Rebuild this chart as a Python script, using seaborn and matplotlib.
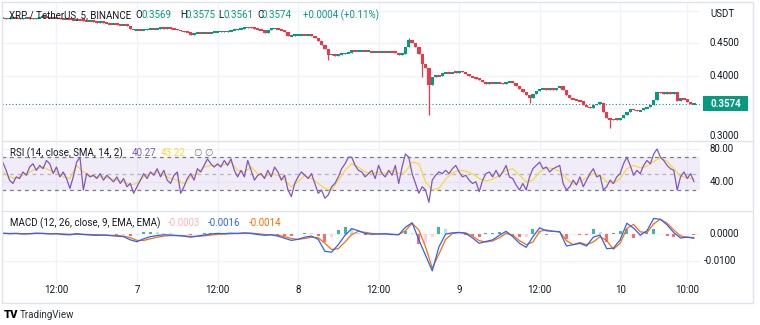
import numpy as np
import matplotlib
matplotlib.use("Agg")
import matplotlib.pyplot as plt
from matplotlib.patches import Rectangle
from matplotlib.lines import Line2D
from matplotlib.transforms import IdentityTransform, blended_transform_factory, Bbox
import seaborn as sns

# ---- XRP / TetherUS (BINANCE), half-hour closes from Nov 6 04:00 to Nov 10 11:00 ----
close = [
    0.489, 0.488, 0.489, 0.490, 0.489, 0.488, 0.489, 0.490, 0.489, 0.488,
    0.489, 0.490, 0.491, 0.490, 0.489, 0.490, 0.489, 0.488, 0.487, 0.488,
    0.487, 0.486, 0.487, 0.486, 0.485, 0.484, 0.485, 0.483, 0.482, 0.483,
    0.482, 0.481, 0.480, 0.481, 0.479, 0.478, 0.479, 0.477, 0.473, 0.470,
    0.471, 0.470, 0.471, 0.472, 0.473, 0.472, 0.473, 0.474, 0.473, 0.474,
    0.473, 0.472, 0.471, 0.469, 0.468, 0.467, 0.463, 0.466, 0.467, 0.466,
    0.467, 0.466, 0.467, 0.468, 0.468, 0.469, 0.468, 0.469, 0.470, 0.471,
    0.472, 0.473, 0.474, 0.475, 0.474, 0.473, 0.471, 0.470, 0.466, 0.471,
    0.473, 0.473, 0.472, 0.470, 0.468, 0.461, 0.462, 0.463,
    0.463, 0.464, 0.463, 0.463, 0.462, 0.458, 0.454, 0.448, 0.441, 0.432,
    0.434, 0.431, 0.433, 0.434, 0.435, 0.436, 0.440, 0.438, 0.438, 0.439,
    0.438, 0.438, 0.437, 0.438, 0.437, 0.438, 0.437, 0.438, 0.437, 0.436,
    0.433, 0.434, 0.444, 0.455, 0.451, 0.445, 0.434, 0.418, 0.412, 0.386,
    0.398, 0.401, 0.400, 0.404, 0.405, 0.404, 0.406, 0.405,
    0.408, 0.406, 0.403, 0.400, 0.398, 0.396, 0.394, 0.391, 0.388, 0.390,
    0.389, 0.390, 0.389, 0.388, 0.390, 0.392, 0.389, 0.384, 0.380, 0.376,
    0.370, 0.366, 0.372, 0.377, 0.380, 0.381, 0.379, 0.380, 0.379, 0.381,
    0.384, 0.378, 0.370, 0.366, 0.364, 0.363, 0.361, 0.356, 0.353, 0.350,
    0.355, 0.357, 0.359, 0.345, 0.336, 0.332, 0.334, 0.333,
    0.335, 0.340, 0.344, 0.349, 0.348, 0.346, 0.347, 0.350, 0.352, 0.356,
    0.363, 0.375, 0.374, 0.373, 0.374, 0.373, 0.375, 0.362, 0.366, 0.364,
    0.360, 0.3569, 0.3574,
]
# long wicks (candle index -> extreme price)
wick_low = {97: 0.4246, 125: 0.3985, 127: 0.3400, 157: 0.3585, 181: 0.3200}
wick_high = {121: 0.4585}

# RSI(14) on the same half-hour grid
rsi = [
    64, 54, 42, 38, 46, 44, 52, 48, 58, 62,
    54, 60, 56, 66, 62, 50, 58, 46, 52, 44,
    32, 46, 64, 70, 30, 50, 46, 48, 44, 50,
    42, 48, 44, 40, 46, 38, 44, 34, 38, 26,
    34, 42, 50, 44, 52, 48, 56, 46, 54, 42,
    38, 48, 52, 26, 34, 44, 50, 42, 56, 52,
    60, 68, 62, 58, 62, 58, 66, 60, 68, 54,
    46, 54, 46, 66, 54, 42, 48, 50, 44, 54,
    46, 58, 52, 42, 48, 30, 22, 38, 46, 52,
    48, 44, 50, 38, 26, 30, 20, 24, 34, 38,
    46, 56, 62, 70, 70, 60, 54, 52, 46, 50,
    54, 44, 60, 50, 46, 54, 48, 60,
    38, 58, 74, 70, 50, 38, 26, 34, 30, 15,
    42, 48, 52, 50, 54, 50, 56, 60, 52, 46,
    48, 42, 38, 40, 28, 42, 50, 52, 46, 54,
    46, 52, 60, 46, 44, 36, 30, 38, 30, 46,
    56, 60, 64, 56, 58, 52, 56, 58, 60, 38,
    30, 34, 42, 36, 46, 34, 42, 50, 56, 46,
    48, 30, 34, 42, 38, 46, 50, 62, 70, 60,
    48, 54, 50, 60, 66, 62, 74, 80, 70, 66,
    60, 56, 54, 30, 46, 52, 44, 50, 40.27,
]

# hourly grid: RSI-based moving average, MACD line and signal line
rsi_ma = [
    52, 46, 44, 48, 52, 56, 58, 54, 52, 46,
    44, 60, 52, 48, 46, 46, 44, 42, 40, 36,
    38, 46, 50, 52, 48, 44, 42, 38, 46, 50,
    58, 60, 60, 61, 64, 54, 52, 58, 50, 46,
    50, 48, 42, 34, 40, 48, 44, 38, 32, 30,
    42, 54, 62, 58, 52, 50, 52, 50, 54, 50,
    52, 64, 62, 40, 30, 32, 43, 51, 54, 53,
    50, 44, 41, 43, 48, 54, 56, 48, 40, 42,
    52, 57, 56, 53, 44, 37, 40, 45, 50, 48,
    40, 38, 44, 56, 60, 57, 59, 65, 69, 65,
    56, 47, 45, 43.22,
]
macd = [
    0.0003, 0.0001, 0.0002, 0.0000, 0.0001, 0.0003, 0.0002, 0.0000, 0.0001, -0.0002,
    -0.0003, 0.0001, -0.0002, -0.0004, -0.0005, -0.0004, -0.0006, -0.0008, -0.0010, -0.0022,
    -0.0029, -0.0018, -0.0010, -0.0006, -0.0003, -0.0004, -0.0006, -0.0008, -0.0012, -0.0008,
    -0.0004, 0.0000, 0.0002, 0.0001, 0.0003, 0.0002, 0.0004, 0.0002, -0.0002, -0.0005,
    -0.0003, -0.0008, -0.0016, -0.0024, -0.0020, -0.0012, -0.0008, -0.0020, -0.0065, -0.0068,
    -0.0040, -0.0005, 0.0020, 0.0012, 0.0002, -0.0001, 0.0000, 0.0001, -0.0002, -0.0003,
    0.0025, 0.0042, -0.0022, -0.0080, -0.0138, -0.0048, 0.0000, 0.0004, 0.0006, 0.0002,
    -0.0015, -0.0035, -0.0028, -0.0022, -0.0005, 0.0010, -0.0010, -0.0035, -0.0050, -0.0010,
    0.0023, 0.0012, 0.0010, 0.0008, -0.0045, -0.0040, -0.0035, -0.0045, -0.0012, -0.0004,
    -0.0055, -0.0053, -0.0022, 0.0040, 0.0022, -0.0004, 0.0012, 0.0058, 0.0055, 0.0034,
    0.0005, -0.0015, -0.0012, -0.00163,
]
signal = [
    0.0002, 0.0002, 0.0002, 0.0001, 0.0001, 0.0002, 0.0002, 0.0001, 0.0001, 0.0000,
    -0.0001, -0.0001, -0.0001, -0.0002, -0.0003, -0.0004, -0.0005, -0.0006, -0.0008, -0.0014,
    -0.0024, -0.0024, -0.0018, -0.0012, -0.0008, -0.0006, -0.0006, -0.0007, -0.0009, -0.0009,
    -0.0007, -0.0004, -0.0001, 0.0000, 0.0001, 0.0002, 0.0003, 0.0003, 0.0001, -0.0002,
    -0.0003, -0.0005, -0.0010, -0.0017, -0.0020, -0.0017, -0.0012, -0.0014, -0.0035, -0.0058,
    -0.0055, -0.0030, -0.0002, 0.0010, 0.0006, 0.0002, 0.0000, 0.0000, -0.0001, -0.0002,
    0.0012, 0.0040, 0.0015, -0.0048, -0.0128, -0.0075, -0.0020, 0.0002, 0.0005, 0.0004,
    -0.0008, -0.0025, -0.0030, -0.0026, -0.0014, 0.0002, -0.0004, -0.0025, -0.0040, -0.0030,
    0.0010, 0.0015, 0.0010, 0.0008, -0.0025, -0.0040, -0.0032, -0.0040, -0.0030, -0.0010,
    -0.0025, -0.0057, -0.0035, 0.0021, 0.0036, 0.0008, 0.0005, 0.0038, 0.0055, 0.0040,
    0.0015, -0.0008, -0.0012, -0.00137,
]

time_ticks = [12, 24, 36, 48, 60, 72, 84, 96, 106]
time_labels = ["12:00", "7", "12:00", "8", "12:00", "9", "12:00", "10", "10:00"]
price_grid = [0.30, 0.35, 0.40, 0.45, 0.50]
price_ticks = [0.45, 0.40, 0.30]
price_labels = ["0.4500", "0.4000", "0.3000"]
rsi_ticks = [80, 40]
rsi_labels = ["80.00", "40.00"]
macd_ticks = [0.0, -0.01]
macd_labels = ["0.0000", "-0.0100"]

# ---- style ----
UP, DOWN = "#089981", "#f23645"
TEXT, GRID, BORDER = "#131722", "#f0f3fa", "#e0e3eb"
PURPLE, YELLOW = "#7e57c2", "#fdd835"
BLUE, ORANGE = "#2962ff", "#ff6d00"

sns.set_theme(style="white")
plt.rcParams["font.family"] = ["Roboto", "DejaVu Sans"]

W, H = 760, 325
X0, X1 = 3.88, 107.9
fig = plt.figure(figsize=(W / 100, H / 100), dpi=100)
fig.patch.set_facecolor("white")


def pane(top, bottom, yticks):
    ax = fig.add_axes([2 / W, 1 - bottom / H, 698 / W, (bottom - top) / H])
    ax.set_facecolor("none")
    for s in ax.spines.values():
        s.set_visible(False)
    ax.set_xlim(X0, X1)
    ax.set_xticks(time_ticks)
    ax.set_yticks(yticks)
    ax.tick_params(length=0, labelbottom=False, labelleft=False)
    ax.grid(True, color=GRID, lw=1, zorder=0)
    return ax


def label(x, y, s, color=TEXT, size=7, ha="left", **kw):
    return fig.text(x / W, 1 - y / H, s, color=color, fontsize=size,
                    ha=ha, va="center", **kw)


ax_p = pane(2, 140, price_grid)
ax_r = pane(141, 210, [80, 40])
ax_m = pane(211, 289, [0.0, -0.01])
ax_p.set_ylim(0.3015, 0.5138)
ax_r.set_ylim(5.6, 89.8)
ax_m.set_ylim(-0.0206, 0.0086)

# ---- candles ----
c = np.array(close)
o = np.r_[c[0], c[:-1]]
t_c = 4 + 0.5 * np.arange(len(c))
col = np.where(c >= o, UP, DOWN)
body_lo = np.minimum(o, c)
body_hi = np.maximum(o, c)
lo = body_lo.copy()
hi = body_hi.copy()
for k, v in wick_low.items():
    lo[k] = v
for k, v in wick_high.items():
    hi[k] = v
ax_p.vlines(t_c, lo, hi, colors=col, lw=0.9, zorder=3)
# bodies get a minimum visible thickness so flat stretches still read as candles
min_body = 0.0028
body_h = np.maximum(body_hi - body_lo, min_body)
body_mid = (body_hi + body_lo) / 2
ax_p.bar(t_c, body_h, bottom=body_mid - body_h / 2,
         width=0.5, color=col, lw=0, zorder=3)
ax_p.axhline(c[-1], color=UP, ls=(0, (1, 2)), lw=0.8, zorder=2)

# ---- RSI ----
t_r = 4 + 0.5 * np.arange(len(rsi))
t_h = 4 + 1.0 * np.arange(len(rsi_ma))
ax_r.axhspan(30, 70, color=PURPLE, alpha=0.1, lw=0, zorder=1)
for lvl, a in ((70, 1.0), (50, 0.5), (30, 1.0)):
    ax_r.axhline(lvl, color="#787b86", ls=(0, (3, 3)), lw=0.9, alpha=a, zorder=2)
sns.lineplot(x=t_r, y=rsi, ax=ax_r, color=PURPLE, lw=0.9, estimator=None, zorder=4)
sns.lineplot(x=t_h, y=rsi_ma, ax=ax_r, color=YELLOW, lw=0.9, estimator=None, zorder=3)

# ---- MACD ----
m = np.array(macd)
s = np.array(signal)
hist = m - s
prev = np.r_[0.0, hist[:-1]]
hcol = np.where(hist >= 0,
                np.where(hist >= prev, "#26a69a", "#b2dfdb"),
                np.where(hist < prev, "#ff5252", "#ffcdd2"))
ax_m.bar(t_h, hist, width=0.45, color=hcol, lw=0, alpha=0.85, zorder=2)
sns.lineplot(x=t_h, y=macd, ax=ax_m, color=BLUE, lw=0.9, estimator=None, zorder=4)
sns.lineplot(x=t_h, y=signal, ax=ax_m, color=ORANGE, lw=0.9, estimator=None, zorder=3)
for ax in (ax_p, ax_r, ax_m):
    ax.set_xlim(X0, X1)
    ax.set_xlabel("")
    ax.set_ylabel("")

# ---- axis labels on the right ----
pane_box = ax_p.get_window_extent()
for ax, ticks, labels in ((ax_p, price_ticks, price_labels),
                          (ax_r, rsi_ticks, rsi_labels),
                          (ax_m, macd_ticks, macd_labels)):
    tr = blended_transform_factory(IdentityTransform(), ax.transData)
    for v, txt in zip(ticks, labels):
        xpos = 704 if txt.startswith("-") else 710
        # the lowest price label sits on the pane edge and is cut by it
        va = "bottom" if (ax is ax_p and v == 0.30) else "center"
        t = ax.text(xpos, v, txt, transform=tr, fontsize=7, color=TEXT,
                    ha="left", va=va, clip_on=False)
        if ax is ax_p:
            t.set_clip_box(Bbox.from_extents(690, pane_box.y0 + 1, 760, H))
            t.set_clip_on(True)
label(710, 14, "USDT")

# last price tag
y_last = ax_p.transData.transform((X0, c[-1]))[1]
fig.add_artist(Rectangle((703, y_last - 7.5), 45, 15, transform=IdentityTransform(),
                         facecolor=UP, edgecolor="none"))
fig.text(725.5, y_last, f"{close[-1]:.4f}", transform=IdentityTransform(),
         color="white", fontsize=7, fontweight="bold", ha="center", va="center")

# time axis
trx = blended_transform_factory(ax_m.transData, IdentityTransform())
for tv, txt in zip(time_ticks, time_labels):
    ax_m.text(tv, H - 290, txt, transform=trx, fontsize=7, color=TEXT,
              ha="center", va="center", clip_on=False)

# ---- legends ----
label(9, 15, "XRP / TetherUS, 5, BINANCE")
for x, txt, colr in ((135, "O", TEXT), (141, "0.3569", UP), (180, "H", TEXT),
                     (186, "0.3575", UP), (218, "L", TEXT), (223, "0.3561", UP),
                     (257, "C", TEXT), (262, "0.3574", UP), (303, "+0.0004 (+0.11%)", UP)):
    label(x, 15, txt, color=colr)

label(10, 153, "RSI (14, close, SMA, 14, 2)")
label(132, 153, "40.27", color=PURPLE)
label(161, 153, "43.22", color=YELLOW)
label(193, 153, "\u2205", color="#787b86", family=["DejaVu Sans"])
label(204, 153, "\u2205", color="#787b86", family=["DejaVu Sans"])

label(10, 223, "MACD (12, 26, close, 9, EMA, EMA)")
label(168, 223, "-0.0003", color="#ffb3ba")
label(208, 223, "-0.0016", color=BLUE)
label(249, 223, "-0.0014", color=ORANGE)

# ---- frame and pane separators ----
fig.add_artist(Rectangle((1.5, H - 302.5), 751, 301, transform=IdentityTransform(),
                         fill=False, edgecolor=BORDER, lw=1))
for yy in (140.5, 210.5):
    fig.add_artist(Line2D([1.5, 752.5], [H - yy, H - yy], transform=IdentityTransform(),
                          color=BORDER, lw=1))

# footer mark
label(4, 315, "TV", color="black", size=8, fontweight="heavy")
label(20, 315, "TradingView", color="#2a2e39", size=7)

fig.savefig("out.png", dpi=100, facecolor="white")
